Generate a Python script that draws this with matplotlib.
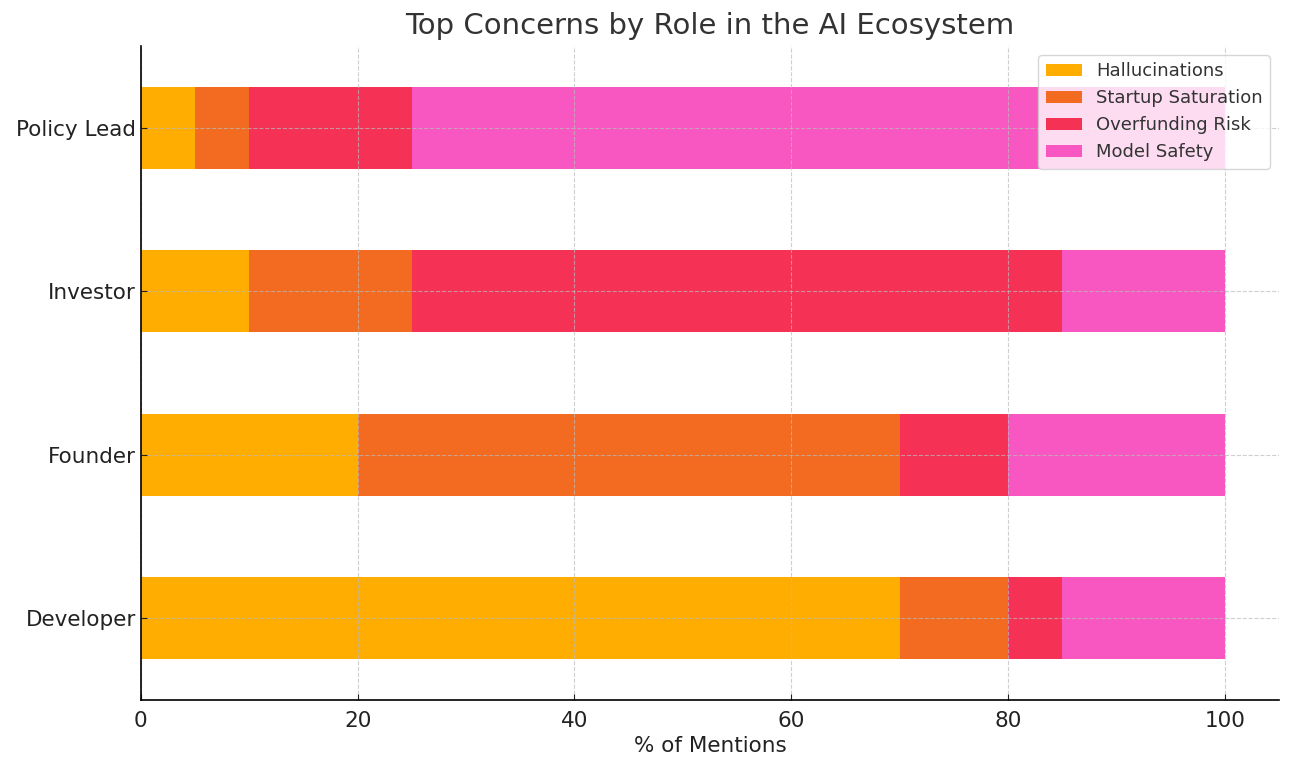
import matplotlib.pyplot as plt
import numpy as np

roles = ["Developer", "Founder", "Investor", "Policy Lead"]
concerns = ["Hallucinations", "Startup Saturation", "Overfunding Risk", "Model Safety"]
hallucinations = [70, 20, 10, 5]
startup_saturation = [10, 50, 15, 5]
overfunding_risk = [5, 10, 60, 15]
model_safety = [15, 20, 15, 75]

colors = ["#FFAD00", "#F26B21", "#F53155", "#F857C1"]

fig, ax = plt.subplots(figsize=(12.92, 7.69), dpi=100)

y = np.arange(len(roles))
left = np.zeros(len(roles))
for name, vals, c in zip(concerns,
                         [hallucinations, startup_saturation, overfunding_risk, model_safety],
                         colors):
    ax.barh(y, vals, height=0.5, left=left, color=c, label=name)
    left += np.array(vals)

ax.set_yticks(y)
ax.set_yticklabels(roles)
ax.set_ylim(-0.5, 3.5)
ax.set_xlim(0, 105)
ax.set_xlabel("% of Mentions", fontsize=15.5, color="#222222", labelpad=4)
ax.set_title("Top Concerns by Role in the AI Ecosystem", fontsize=21, color="#333333", pad=9)
ax.tick_params(axis="both", labelsize=15.5, direction="in", length=4, colors="#222222")
ax.tick_params(axis="x", pad=8)

ax.grid(True, linestyle="--", color="#BBBBBB", alpha=0.7)
ax.set_axisbelow(False)
for s in ["top", "right"]:
    ax.spines[s].set_visible(False)
for s in ["left", "bottom"]:
    ax.spines[s].set_linewidth(1.2)
    ax.spines[s].set_zorder(4)

leg = ax.legend(loc="upper right", fontsize=13, framealpha=0.8)
for t in leg.get_texts():
    t.set_color("#333333")

fig.subplots_adjust(left=0.109, right=0.99, top=0.94, bottom=0.09)
fig.savefig("out.png")
